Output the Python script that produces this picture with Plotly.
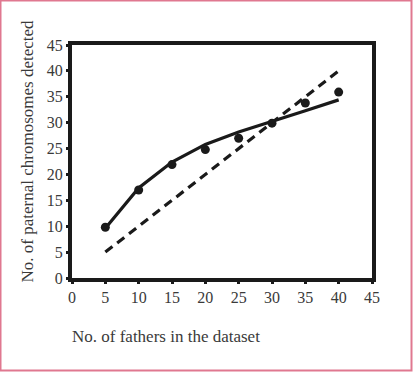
import plotly.graph_objects as go

fathers = [5, 10, 15, 20, 25, 30, 35, 40]
observed = [9.8, 17.0, 21.9, 24.8, 27.0, 29.9, 33.8, 35.9]
fitted = [9.6, 17.4, 22.4, 25.8, 28.2, 30.2, 32.3, 34.4]
expected = [5, 10, 15, 20, 25, 30, 35, 40]
ticks = [0, 5, 10, 15, 20, 25, 30, 35, 40, 45]

tick_font = dict(family="Liberation Serif, Times New Roman, serif", size=16, color="#3a3a3a")
title_font = dict(family="Liberation Serif, Times New Roman, serif", size=17, color="#3a3a3a")

fig = go.Figure()
fig.add_trace(go.Scatter(x=fathers, y=expected, mode="lines",
                         line=dict(color="#1a1a1a", width=3.2, dash="9px,6px"),
                         showlegend=False))
fig.add_trace(go.Scatter(x=fathers, y=fitted, mode="lines",
                         line=dict(color="#1a1a1a", width=3.2),
                         showlegend=False))
fig.add_trace(go.Scatter(x=fathers, y=observed, mode="markers",
                         marker=dict(color="#1a1a1a", size=9),
                         showlegend=False))

axis_common = dict(showgrid=False, zeroline=False, showline=True, linecolor="#1a1a1a",
                   linewidth=4, mirror=True, ticks="outside", ticklen=2, tickwidth=3,
                   tickcolor="#1a1a1a", tickfont=tick_font, tickvals=ticks, range=[0, 45])

fig.update_xaxes(**axis_common)
fig.update_yaxes(**axis_common)

fig.update_layout(
    width=413, height=372,
    margin=dict(l=72, r=41, t=45, b=94),
    paper_bgcolor="white", plot_bgcolor="white",
    font=tick_font,
    annotations=[
        dict(text="No. of fathers in the dataset", xref="paper", yref="paper",
             x=-0.008, y=-0.249, xanchor="left", yanchor="middle", showarrow=False,
             font=title_font),
        dict(text="No. of paternal chromosomes detected", xref="paper", yref="paper",
             x=-0.15, y=0.543, xanchor="center", yanchor="middle", showarrow=False,
             textangle=-90, font=title_font),
    ],
    shapes=[dict(type="rect", xref="paper", yref="paper",
                 x0=-71.5/300, x1=1 + 39.5/300, y0=-92.5/233, y1=1 + 44.5/233,
                 line=dict(color="#e07890", width=2), layer="below")],
)

fig.write_html("out.html", config={"displayModeBar": False},
               post_script="document.body.style.margin='0';document.body.style.overflow='hidden';")
